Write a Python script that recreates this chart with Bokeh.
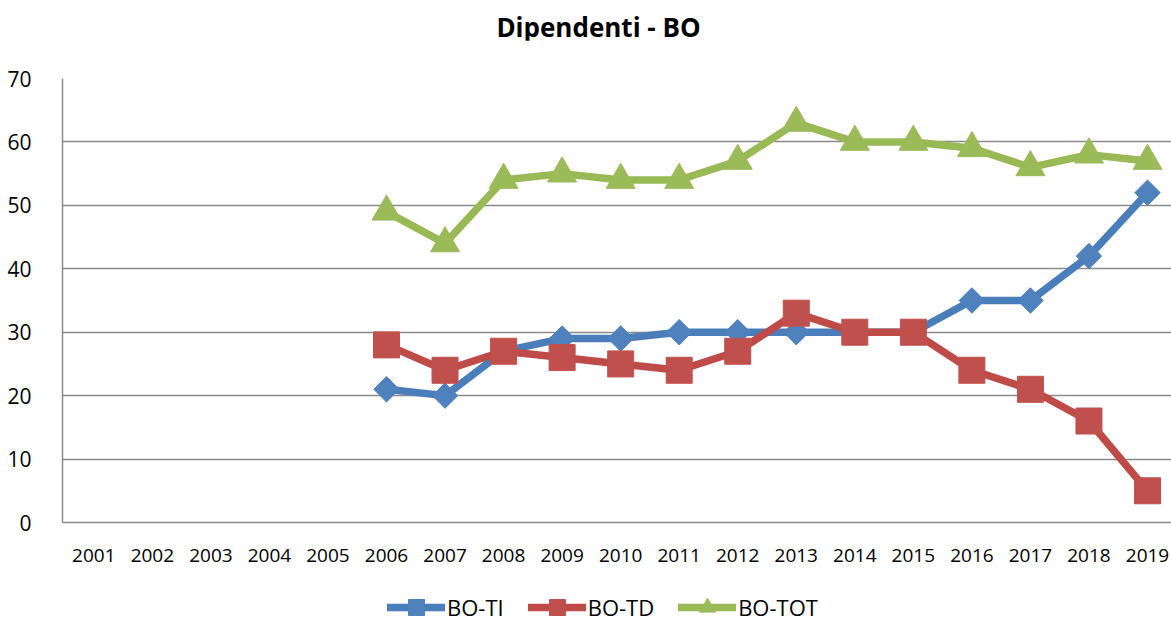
from bokeh.plotting import figure
from bokeh.layouts import column
from bokeh.models import Range1d, FixedTicker, Legend, Div
from bokeh.embed import file_html
from bokeh.resources import INLINE

# Staff counts for Bologna, by year
years = [2001, 2002, 2003, 2004, 2005, 2006, 2007, 2008, 2009, 2010,
         2011, 2012, 2013, 2014, 2015, 2016, 2017, 2018, 2019]
year_labels = [str(y) for y in years]

data_years = [2006, 2007, 2008, 2009, 2010, 2011, 2012, 2013, 2014,
              2015, 2016, 2017, 2018, 2019]
bo_ti = [21, 20, 27, 29, 29, 30, 30, 30, 30, 30, 35, 35, 42, 52]
bo_td = [28, 24, 27, 26, 25, 24, 27, 33, 30, 30, 24, 21, 16, 5]
bo_tot = [49, 44, 54, 55, 54, 54, 57, 63, 60, 60, 59, 56, 58, 57]

y_ticks = [0, 10, 20, 30, 40, 50, 60, 70]

title_text = "Dipendenti - BO"
FONT = "Open Sans"

# name, values, line colour, marker colour, marker, size, angle
series = [
    ("BO-TI", bo_ti, "#4A7EBB", "#4F81BD", "square", 18, 0.785398),
    ("BO-TD", bo_td, "#BE4B48", "#C0504D", "square", 26, 0.0),
    ("BO-TOT", bo_tot, "#98B954", "#9BBB59", "triangle", 29, 0.0),
]

# --- title strip ---
title = Div(
    text=(f'<div style="font-family:\'{FONT}\'; font-weight:bold; font-size:26px; '
          f'color:#000; line-height:30px; padding-top:12px; padding-left:26px; '
          f'text-align:center; width:1171px; box-sizing:border-box;">{title_text}</div>'),
    width=1171, height=40, margin=0)

# --- main chart ---
p = figure(width=1171, height=530, output_backend="svg", toolbar_location=None,
           x_range=Range1d(2000.465, 2019.41), y_range=Range1d(0, 70),
           min_border_left=62, min_border_right=0, min_border_top=38,
           min_border_bottom=48, outline_line_color=None)

for name, vals, lcol, mcol, marker, size, ang in series:
    p.line(data_years, vals, line_color=lcol, line_width=7.5, line_join="round")
    p.scatter(data_years, vals, marker=marker, size=size, angle=ang,
              fill_color=mcol, line_color=mcol, line_width=1)

p.xaxis.ticker = FixedTicker(ticks=years)
p.xaxis.major_label_overrides = {y: lab for y, lab in zip(years, year_labels)}
p.yaxis.ticker = FixedTicker(ticks=y_ticks)
for ax in (p.xaxis[0], p.yaxis[0]):
    ax.major_tick_line_color = None
    ax.minor_tick_line_color = None
    ax.axis_line_color = "#8a8a8a"
    ax.axis_line_width = 1.5
    ax.major_label_text_font = FONT
    ax.major_label_text_color = "#000000"
p.xaxis.major_label_text_font_size = "19px"
p.yaxis.major_label_text_font_size = "21px"
p.xaxis.major_label_standoff = 20
p.yaxis.major_label_standoff = 25

p.xgrid.grid_line_color = None
p.ygrid.grid_line_color = "#8a8a8a"
p.ygrid.grid_line_width = 1.5

# --- legend strip (series drawn off-range so only the legend shows) ---
lg = figure(width=1171, height=49, output_backend="svg", toolbar_location=None,
            x_range=Range1d(0, 1), y_range=Range1d(0, 1),
            x_axis_location=None, y_axis_location=None, min_border=0,
            outline_line_color=None)
lg.xgrid.grid_line_color = None
lg.ygrid.grid_line_color = None

items = []
for name, vals, lcol, mcol, marker, size, ang in series:
    ln = lg.line(data_years, vals, line_color=lcol, line_width=7.5, line_cap="round")
    sc = lg.scatter(data_years, vals, marker=marker, size=size, angle=ang,
                    fill_color=mcol, line_color=mcol)
    items.append((name, [ln, sc]))

legend = Legend(items=items, orientation="horizontal", location=(325, -8),
                label_text_font=FONT, label_text_font_size="22px",
                label_text_color="#000000", glyph_width=58, glyph_height=40,
                spacing=24, label_standoff=2, padding=0, margin=0,
                border_line_color=None, background_fill_alpha=0)
lg.add_layout(legend)

layout = column(title, p, lg, spacing=0)
open("out.html", "w").write(file_html(layout, INLINE))
